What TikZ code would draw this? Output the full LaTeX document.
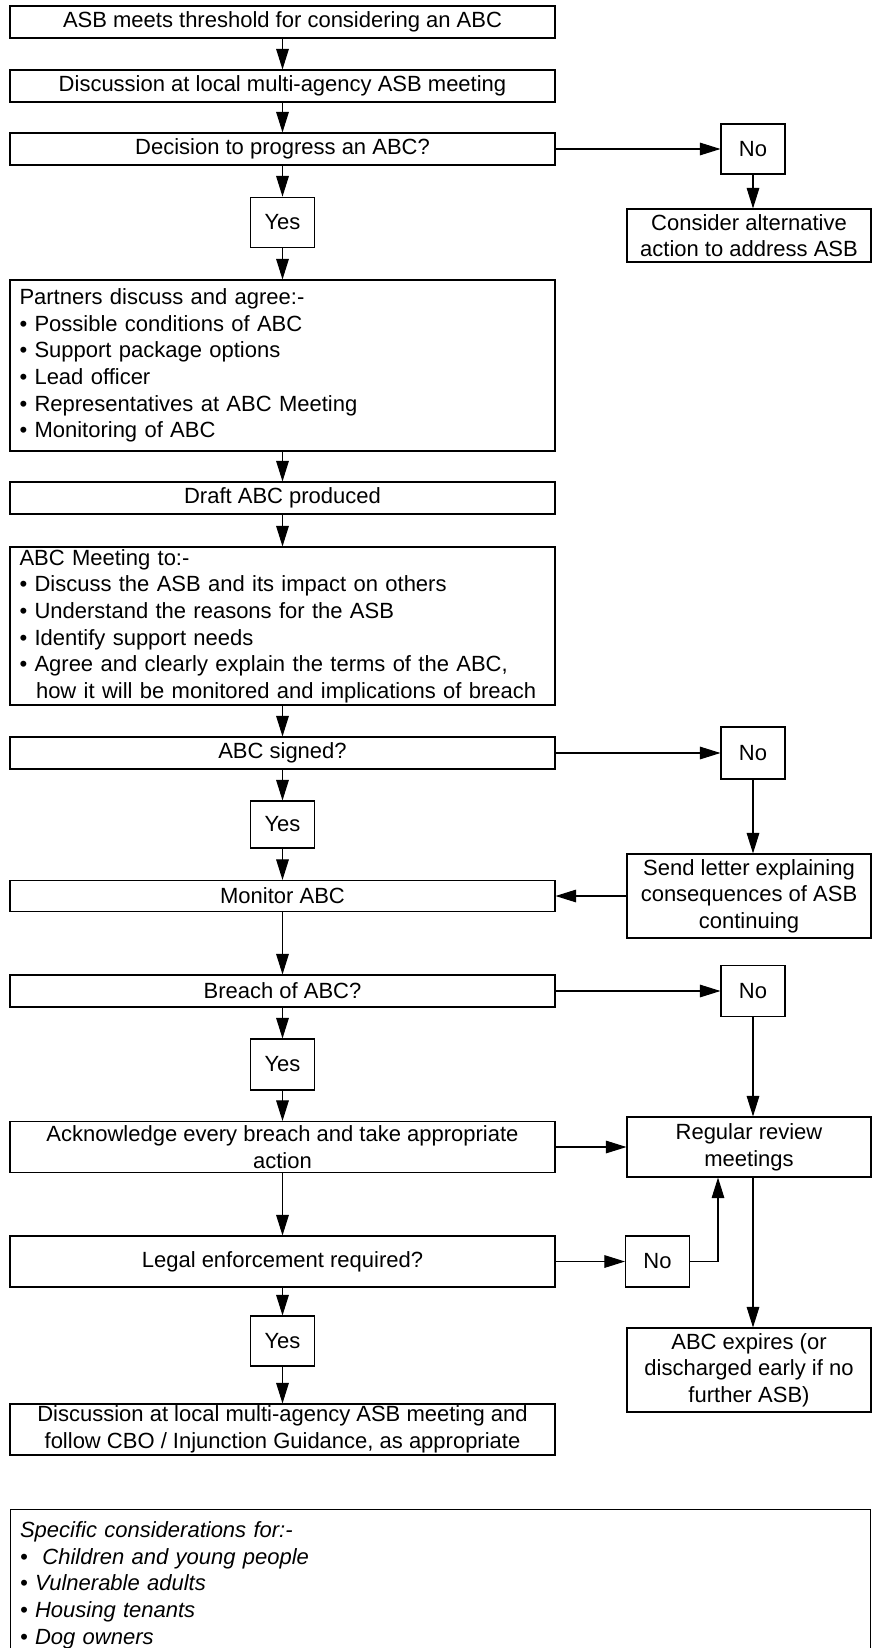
\documentclass[tikz,border=0pt]{standalone}
\usepackage{fontspec}
\setmainfont{Liberation Sans}
\usepackage{tikz}
\usetikzlibrary{arrows.meta}

\begin{document}
\begin{tikzpicture}[x=0.75pt, y=-0.75pt,
  font=\fontsize{16.5}{20}\selectfont,
  box/.style={draw, line width=0.8pt, inner xsep=0pt, inner ysep=1pt, align=center},
  mainbox/.style={box, minimum width=408.75pt},
  sidebox/.style={box, minimum width=183pt},
  ansbox/.style={box, minimum width=48pt},
  listbox/.style={box, text width=394.5pt, inner xsep=7.125pt, align=left},
  flow/.style={line width=0.8pt, -{Triangle[length=15.5pt,width=9.5pt]}}]
  \useasboundingbox (0,0) rectangle (873,1648);
  % Main column
  \node[mainbox, minimum height=24pt] (thresh) at (282.5,22) {ASB meets threshold for considering an ABC};
  \node[mainbox, minimum height=24pt] (discuss) at (282.5,86) {Discussion at local multi-agency ASB meeting};
  \node[mainbox, minimum height=24pt] (decide) at (282.5,149) {Decision to progress an ABC?};
  \node[ansbox, minimum height=38pt] (yesA) at (282.5,222.5) {Yes};
  \node[listbox, minimum height=128.25pt] (partners) at (282.5,365.5) {Partners discuss and agree:-\\
    • Possible conditions of ABC\\
    • Support package options\\
    • Lead officer\\
    • Representatives at ABC Meeting\\
    • Monitoring of ABC};
  \node[mainbox, minimum height=24pt] (draft) at (282.5,498) {Draft ABC produced};
  \node[listbox, minimum height=118.5pt] (meeting) at (282.5,626) {ABC Meeting to:-\\
    • Discuss the ASB and its impact on others\\
    • Understand the reasons for the ASB\\
    • Identify support needs\\
    • Agree and clearly explain the terms of the ABC,\\
    \hspace*{12.4pt}how it will be monitored and implications of breach};
  \node[mainbox, minimum height=24pt] (signed) at (282.5,753) {ABC signed?};
  \node[ansbox, minimum height=35.25pt] (yesB) at (282.5,824.5) {Yes};
  \node[mainbox, minimum height=23.25pt] (monitor) at (282.5,896) {Monitor ABC};
  \node[mainbox, minimum height=24pt] (breach) at (282.5,991) {Breach of ABC?};
  \node[ansbox, minimum height=38.25pt] (yesC) at (282.5,1064.5) {Yes};
  \node[mainbox, minimum height=38.25pt] (ack) at (282.5,1147) {Acknowledge every breach and take appropriate\\action};
  \node[mainbox, minimum height=38.25pt] (legal) at (282.5,1261.5) {Legal enforcement required?};
  \node[ansbox, minimum height=37.5pt] (yesD) at (282.5,1341) {Yes};
  \node[mainbox, minimum height=38.25pt] (final) at (282.5,1429.5) {Discussion at local multi-agency ASB meeting and\\follow CBO / Injunction Guidance, as appropriate};
  % Right column
  \node[ansbox, minimum height=37.5pt] (noA) at (753,149) {No};
  \node[sidebox, minimum height=39.75pt] (alt) at (749,235.5) {Consider alternative\\action to address ASB};
  \node[ansbox, minimum height=39pt] (noB) at (753,753) {No};
  \node[sidebox, minimum height=63pt] (letter) at (749,896) {Send letter explaining\\consequences of ASB\\continuing};
  \node[ansbox, minimum height=38.25pt] (noC) at (753,991) {No};
  \node[sidebox, minimum height=45pt] (review) at (749,1147) {Regular review\\meetings};
  \node[ansbox, minimum height=38.25pt] (noD) at (657.5,1261.5) {No};
  \node[sidebox, minimum height=63pt] (expires) at (749,1370) {ABC expires (or\\discharged early if no\\further ASB)};
  \coordinate (turn) at (718,1261.5);
  % Notes
  \node[box, anchor=north west, text width=630.75pt, inner xsep=7.125pt, align=left,
    minimum height=113.25pt, font=\fontsize{16.5}{20}\selectfont\itshape] (specific) at (10,1509)
    {Specific considerations for:-\\
    •\ \ Children and young people\\
    • Vulnerable adults\\
    • Housing tenants\\
    • Dog owners};
  % Arrows down the main column
  \draw[flow] (thresh) -- (discuss);
  \draw[flow] (discuss) -- (decide);
  \draw[flow] (decide) -- (yesA);
  \draw[flow] (yesA) -- (partners);
  \draw[flow] (partners) -- (draft);
  \draw[flow] (draft) -- (meeting);
  \draw[flow] (meeting) -- (signed);
  \draw[flow] (signed) -- (yesB);
  \draw[flow] (yesB) -- (monitor);
  \draw[flow] (monitor) -- (breach);
  \draw[flow] (breach) -- (yesC);
  \draw[flow] (yesC) -- (ack);
  \draw[flow] (ack) -- (legal);
  \draw[flow] (legal) -- (yesD);
  \draw[flow] (yesD) -- (final);
  % Arrows to the right
  \draw[flow] (decide) -- (noA);
  \draw[flow] (noA.south) -- (noA.south |- alt.north);
  \draw[flow] (signed) -- (noB);
  \draw[flow] (noB.south) -- (noB.south |- letter.north);
  \draw[flow] (letter) -- (monitor);
  \draw[flow] (breach) -- (noC);
  \draw[flow] (noC.south) -- (noC.south |- review.north);
  \draw[flow] (ack) -- (review);
  \draw[flow] (legal) -- (noD);
  \draw[flow] (noD.east) -- (turn) -- (turn |- review.south);
  \draw[flow] (noC.south |- review.south) -- (noC.south |- expires.north);
\end{tikzpicture}
\end{document}
